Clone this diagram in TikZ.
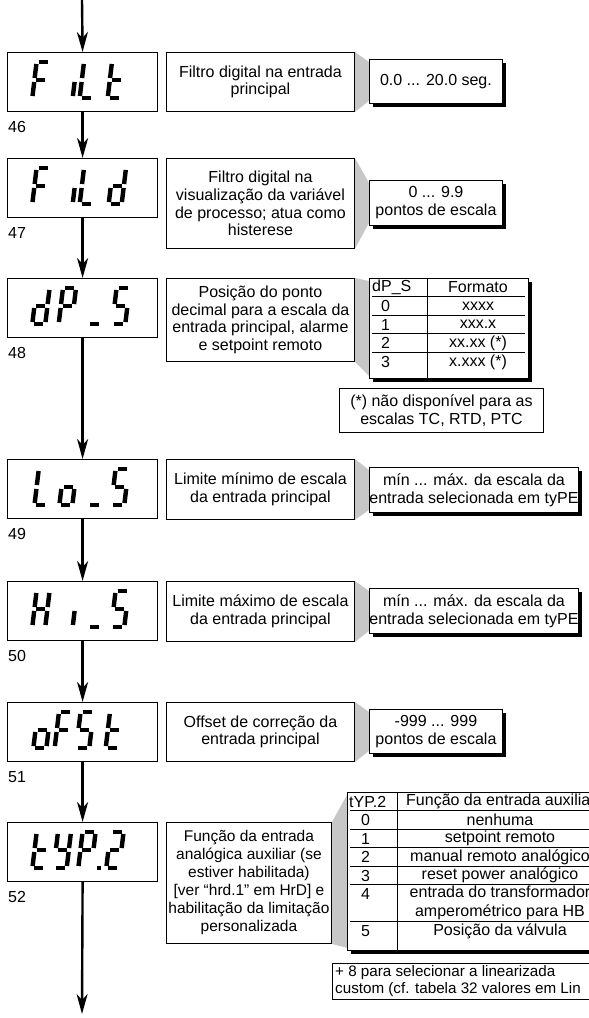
\documentclass[tikz,border=0pt]{standalone}
\usepackage{fontspec}
\setmainfont{Liberation Sans}
\usetikzlibrary{arrows.meta,shadows,backgrounds}
\definecolor{funnelgray}{gray}{0.78}
\newcommand\mainsz{\fontsize{16}{17.8}\selectfont}
% seven-segment glyphs: segments as x1/y1/x2/y2 (w=13, h=36)
\def\svF{0/0/13/0,0/0/0/18,0/18/0/36,0/18/13/18}
\def\svL{0/0/0/18,0/18/0/36,0/36/13/36}
\def\svt{0/0/0/18,0/18/0/36,0/36/13/36,0/18/13/18}
\def\svd{13/0/13/18,13/18/13/36,0/36/13/36,0/18/0/36,0/18/13/18}
\def\svP{0/0/13/0,13/0/13/18,0/0/0/18,0/18/0/36,0/18/13/18}
\def\svU{0/36/13/36}
\def\svS{0/0/13/0,0/0/0/18,0/18/13/18,13/18/13/36,0/36/13/36}
\def\svo{0/18/13/18,13/18/13/36,0/36/13/36,0/18/0/36}
\def\svH{0/0/0/18,0/18/0/36,13/0/13/18,13/18/13/36,0/18/13/18}
\def\svi{13/18/13/36}
\def\svY{0/0/0/18,13/0/13/18,0/18/13/18,13/18/13/36,0/36/13/36}
\def\svTwo{0/0/13/0,13/0/13/18,0/18/13/18,0/18/0/36,0/36/13/36}
\newcommand\segglyph[3]{\begin{scope}[shift={(#1,#2)},xslant=0.12]
  \foreach \xa/\ya/\xb/\yb in #3 {\draw[segline] (\xa,\ya) -- (\xb,\yb);}
  \end{scope}}
\tikzset{
  segline/.style={line width=4.4pt, shorten <=2pt, shorten >=2pt},
  dispbox/.style={draw, line width=1.2pt, anchor=north west, minimum width=150pt, minimum height=59pt, inner sep=0pt},
  descbox/.style={draw, line width=0.9pt, fill=white, anchor=north west, align=center, inner sep=0pt},
  valbox/.style={draw, line width=0.9pt, fill=white, anchor=north west, align=center, inner sep=0pt,
     drop shadow={fill=black, opacity=1, shadow xshift=4pt, shadow yshift=-4pt}},
  plainbox/.style={draw, line width=0.9pt, fill=white, anchor=north west, inner sep=0pt},
  funnel/.style={fill=funnelgray, draw=none},
  flow/.style={line width=2.4pt, -{Stealth[length=20pt,width=11pt,inset=6pt]}},
  num/.style={anchor=west, inner sep=0pt},
  txt/.style={inner sep=0pt, align=center},
  ltxt/.style={inner sep=0pt, anchor=west, align=left},
  rule/.style={line width=0.8pt},
}
\begin{document}
\begin{tikzpicture}[x=1pt,y=-1pt,font=\mainsz]
\path[use as bounding box] (0,0) rectangle (589,1018);
\clip (0,0) rectangle (589,1018);

% ---------- display boxes ----------
\node[dispbox] (d1) at (7,52) {};
\node[dispbox] (d2) at (7,158) {};
\node[dispbox] (d3) at (7,278) {};
\node[dispbox] (d4) at (7,459) {};
\node[dispbox] (d5) at (7,581) {};
\node[dispbox] (d6) at (7,702) {};
\node[dispbox] (d7) at (7,822) {};

% seven-segment texts
\segglyph{36.6}{62}{\svF}\segglyph{64}{62}{\svi}\segglyph{84}{62}{\svL}\segglyph{112}{62}{\svt}
\segglyph{36.6}{168}{\svF}\segglyph{64}{168}{\svi}\segglyph{84}{168}{\svL}\segglyph{113}{168}{\svd}
\segglyph{36.6}{288}{\svd}\segglyph{63}{288}{\svP}\segglyph{92}{288}{\svU}\segglyph{116.6}{288}{\svS}
\segglyph{38.8}{469}{\svL}\segglyph{63.7}{469}{\svo}\segglyph{92.8}{469}{\svU}\segglyph{115.6}{469}{\svS}
\segglyph{36.6}{591}{\svH}\segglyph{64}{591}{\svi}\segglyph{92.8}{591}{\svU}\segglyph{115.6}{591}{\svS}
\segglyph{37.7}{712}{\svo}\segglyph{59}{712}{\svF}\segglyph{80.6}{712}{\svS}\segglyph{110}{712}{\svt}
\segglyph{36.7}{832}{\svt}\segglyph{58}{832}{\svY}\segglyph{82.6}{832}{\svP}\segglyph{110.6}{832}{\svTwo}
\fill (97,865.8) rectangle (101.4,870.2);

% ---------- parameter numbers ----------
\node[num] (n1) at (8,127) {46};
\node[num] (n2) at (8,233) {47};
\node[num] (n3) at (8,353) {48};
\node[num] (n4) at (8,534) {49};
\node[num] (n5) at (8,656) {50};
\node[num] (n6) at (8,777) {51};
\node[num] (n7) at (8,897) {52};

% ---------- description boxes ----------
\node[descbox, minimum width=188pt, minimum height=59pt] (t1) at (166,52) {Filtro digital na entrada\\principal};
\node[descbox, minimum width=188pt, minimum height=90pt] (t2) at (166,158) {Filtro digital na\\visualização da variável\\de processo; atua como\\histerese};
\node[descbox, minimum width=188pt, minimum height=83pt] (t3) at (166,278) {Posição do ponto\\decimal para a escala da\\entrada principal, alarme\\e setpoint remoto};
\node[descbox, minimum width=188pt, minimum height=60pt] (t4) at (166,459) {Limite mínimo de escala\\da entrada principal};
\node[descbox, minimum width=188pt, minimum height=60pt] (t5) at (166,581) {Limite máximo de escala\\da entrada principal};
\node[descbox, minimum width=188pt, minimum height=59pt] (t6) at (166,702) {Offset de correção da\\entrada principal};
\node[descbox, minimum width=165pt, minimum height=121pt, font=\fontsize{15.5}{18}\selectfont] (t7) at (166,822) {Função da entrada\\analógica auxiliar (se\\estiver habilitada)\\{[}ver “hrd.1” em HrD{]} e\\habilitação da limitação\\personalizada};

% ---------- value boxes ----------
\node[valbox, minimum width=133pt, minimum height=44pt] (v1) at (369,59) {0.0 ... 20.0 seg.};
\node[valbox, minimum width=133pt, minimum height=45pt] (v2) at (369,180) {0 ... 9.9\\pontos de escala};
\node[valbox, minimum width=159pt, minimum height=100pt] (v3) at (369,278) {};
\node[valbox, minimum width=203pt, minimum height=45pt] (v4) at (369,467) {mín ... máx. da escala da\\entrada selecionada em tyPE};
\node[valbox, minimum width=203pt, minimum height=45pt] (v5) at (369,588) {mín ... máx. da escala da\\entrada selecionada em tyPE};
\node[valbox, minimum width=133pt, minimum height=44pt] (v6) at (369,709) {-999 ... 999\\pontos de escala};
\node[valbox, minimum width=252pt, minimum height=158pt] (v7) at (347,792) {};

% ---------- funnels ----------
\begin{pgfonlayer}{background}
\foreach \i in {1,...,7}{
  \fill[funnel] (t\i.north east) -- ([yshift=-3pt]v\i.north west) -- ([yshift=3pt]v\i.south west) -- (t\i.south east) -- cycle;
}
\end{pgfonlayer}

% ---------- table dP_S ----------
\draw[rule] (427,278) -- (427,378);
\foreach \yy in {296.5,315,333.5,352} {\draw[rule] (372,\yy) -- (525,\yy);}
\node[ltxt] (h3a) at (372,287.5) {dP\_S};
\node[txt] (h3b) at (478,287.5) {Formato};
\node[ltxt] (r30a) at (381,306) {0};
\node[txt] (r30b) at (478,306) {xxxx};
\node[ltxt] (r31a) at (381,324.5) {1};
\node[txt] (r31b) at (478,324.5) {xxx.x};
\node[ltxt] (r32a) at (381,343) {2};
\node[txt] (r32b) at (478,343) {xx.xx (*)};
\node[ltxt] (r33a) at (381,362) {3};
\node[txt] (r33b) at (478,362) {x.xxx (*)};
\node[plainbox, minimum width=204pt, minimum height=44pt, align=center] (f3) at (339,388) {(*) não disponível para as\\escalas TC, RTD, PTC};

% ---------- table tYP.2 ----------
\draw[rule] (397,792) -- (397,950);
\foreach \yy in {810.5,829,847.5,866,884.5,921.5} {\draw[rule] (350,\yy) -- (599,\yy);}
\node[ltxt] (h7a) at (349,801.5) {tYP.2};
\node[ltxt] (h7b) at (406,801.5) {Função da entrada auxilia};
\node[ltxt] (r70a) at (361,820) {0};
\node[txt] (r70b) at (500,820) {nenhuma};
\node[ltxt] (r71a) at (361,838.5) {1};
\node[txt] (r71b) at (500,838.5) {setpoint remoto};
\node[ltxt] (r72a) at (361,857) {2};
\node[txt] (r72b) at (500,857) {manual remoto analógico};
\node[ltxt] (r73a) at (361,875.5) {3};
\node[ltxt] (r74a) at (361,894) {4};
\node[txt] (r73b) at (500,875.5) {reset power analógico};
\node[txt, font=\fontsize{16}{18.5}\selectfont] (r74b) at (500,903) {entrada do transformador\\amperométrico para HB};
\node[ltxt] (r75a) at (361,931) {5};
\node[txt] (r75b) at (500,931) {Posição da válvula};
\node[plainbox, minimum width=268pt, minimum height=36pt] (f7) at (332,963) {};
\node[ltxt, font=\fontsize{15.2}{16.8}\selectfont] (f7t) at (335,981) {+ 8 para selecionar a linearizada\\custom (cf. tabela 32 valores em Lin};

% ---------- flow arrows ----------
\coordinate (start) at (82,0);
\coordinate (finish) at (82,1014);
\draw[flow] (start) -- (d1.north);
\draw[flow] (d1.south) -- (d2.north);
\draw[flow] (d2.south) -- (d3.north);
\draw[flow] (d3.south) -- (d4.north);
\draw[flow] (d4.south) -- (d5.north);
\draw[flow] (d5.south) -- (d6.north);
\draw[flow] (d6.south) -- (d7.north);
\draw[flow] (d7.south) -- (finish);
\end{tikzpicture}
\end{document}
